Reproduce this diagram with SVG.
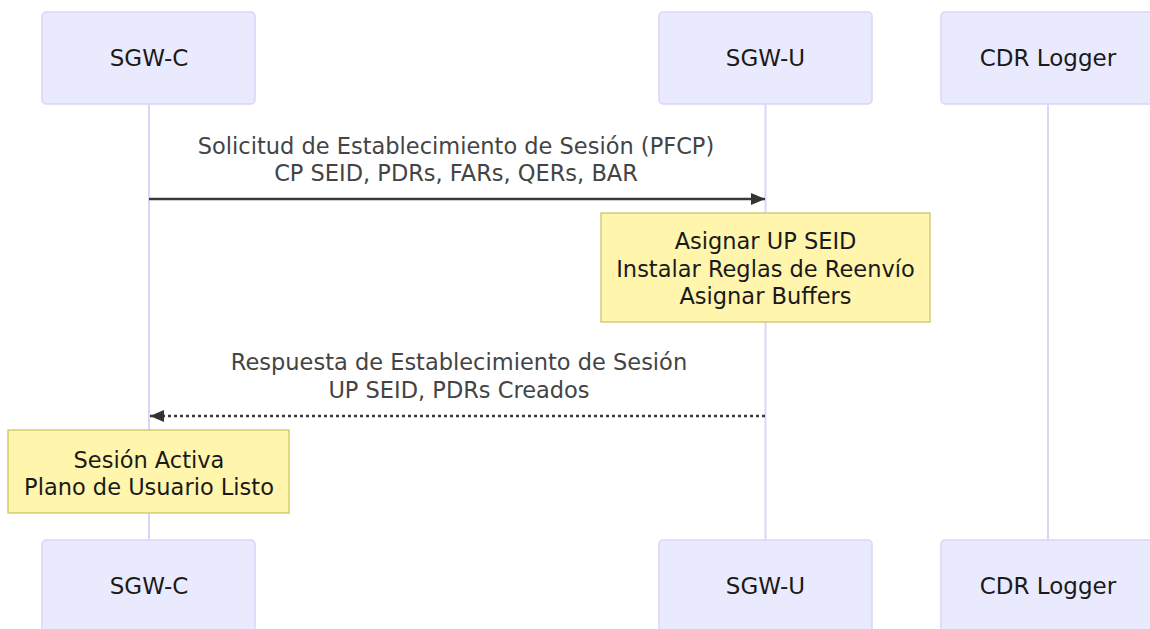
<svg xmlns="http://www.w3.org/2000/svg" width="1150" height="629" viewBox="0 0 1150 629">
<style>
.actor{fill:#eaeaff;stroke:#ddd4f8;stroke-width:1.5}
.atext{font-family:"DejaVu Sans",sans-serif;font-size:23px;fill:#1a1a1a;text-anchor:middle;dominant-baseline:central}
.life{stroke:#ddd4f8;stroke-width:2}
.note{fill:#fff5ad;stroke:#c8c060;stroke-width:1.2}
.ntext{font-family:"DejaVu Sans",sans-serif;font-size:22.5px;fill:#1a1a1a;text-anchor:middle;dominant-baseline:central}
.mtext{font-family:"DejaVu Sans",sans-serif;font-size:22.5px;fill:#444;text-anchor:middle;dominant-baseline:central}
.msg{stroke:#3a3a3a;stroke-width:2.4;fill:none}
.dot{stroke-dasharray:3,3}
</style>
<defs>
<marker id="arrow" viewBox="0 0 14 12" refX="14" refY="6" markerWidth="14" markerHeight="12" markerUnits="userSpaceOnUse" orient="auto-start-reverse">
<path d="M0,0 L14,6 L0,12 z" fill="#333"/>
</marker>
</defs>
<g id="lifelines">
<line class="life" x1="149" y1="104" x2="149" y2="540"/>
<line class="life" x1="765.5" y1="104" x2="765.5" y2="540"/>
<line class="life" x1="1048" y1="104" x2="1048" y2="540"/>
</g>
<g id="actor-sgwc-top"><rect class="actor" x="42" y="12" width="213" height="92" rx="4"/><text class="atext" x="149" y="58">SGW-C</text></g>
<g id="actor-sgwu-top"><rect class="actor" x="659" y="12" width="213" height="92" rx="4"/><text class="atext" x="765.5" y="58">SGW-U</text></g>
<g id="actor-cdr-top"><rect class="actor" x="941" y="12" width="213" height="92" rx="4"/><text class="atext" x="1048" y="58">CDR Logger</text></g>
<g id="actor-sgwc-bottom"><rect class="actor" x="42" y="540" width="213" height="92" rx="4"/><text class="atext" x="149" y="586">SGW-C</text></g>
<g id="actor-sgwu-bottom"><rect class="actor" x="659" y="540" width="213" height="92" rx="4"/><text class="atext" x="765.5" y="586">SGW-U</text></g>
<g id="actor-cdr-bottom"><rect class="actor" x="941" y="540" width="213" height="92" rx="4"/><text class="atext" x="1048" y="586">CDR Logger</text></g>
<g id="connectors">
<line class="msg" x1="149" y1="199" x2="765" y2="199" marker-end="url(#arrow)"/>
<text class="mtext" x="456" y="146">Solicitud de Establecimiento de Sesión (PFCP)</text>
<text class="mtext" x="456" y="173">CP SEID, PDRs, FARs, QERs, BAR</text>
<line class="msg dot" x1="765" y1="416" x2="150" y2="416" marker-end="url(#arrow)"/>
<text class="mtext" x="459" y="362">Respuesta de Establecimiento de Sesión</text>
<text class="mtext" x="459" y="390">UP SEID, PDRs Creados</text>
</g>
<g id="note-sgwu"><rect class="note" x="601" y="213" width="329" height="109"/>
<text class="ntext" x="765.5" y="241">Asignar UP SEID</text>
<text class="ntext" x="765.5" y="269">Instalar Reglas de Reenvío</text>
<text class="ntext" x="765.5" y="296">Asignar Buffers</text></g>
<g id="note-sgwc"><rect class="note" x="8" y="430" width="281" height="83"/>
<text class="ntext" x="149" y="460">Sesión Activa</text>
<text class="ntext" x="149" y="487">Plano de Usuario Listo</text></g>
</svg>
